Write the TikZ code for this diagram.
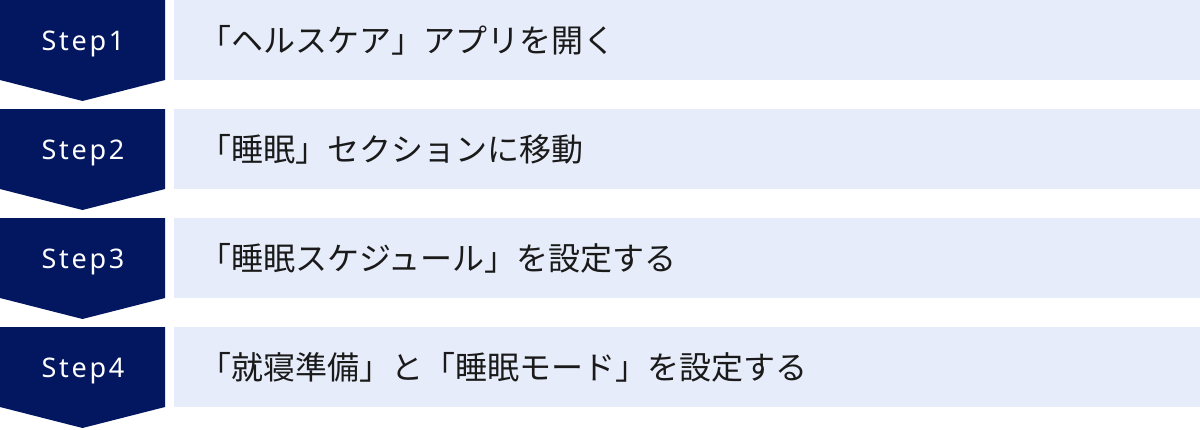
\documentclass[tikz,border=0pt]{standalone}
\usepackage{fontspec}
\newfontfamily\stepfont[LetterSpace=10]{Noto Sans}
\newfontfamily\jpfont{Noto Sans CJK JP}
\definecolor{navy}{HTML}{031760}
\definecolor{barbg}{HTML}{E6ECF9}
\definecolor{txt}{HTML}{1A1A1A}
\begin{document}
\begin{tikzpicture}[x=1pt,y=-1pt,
  steplabel/.style={text=white,font=\stepfont\fontsize{27}{32}\selectfont,inner sep=0pt,anchor=base},
  bartext/.style={text=txt,font=\jpfont\fontsize{32}{38}\selectfont,inner sep=0pt,anchor=west},
  stepshape/.style={fill=navy,draw=none},
  barshape/.style={fill=barbg,draw=none}]
\useasboundingbox (0,0) rectangle (1200,429);
\foreach \y/\n/\t in {0/1/「ヘルスケア」アプリを開く,109/2/「睡眠」セクションに移動,218/3/「睡眠スケジュール」を設定する,327/4/「就寝準備」と「睡眠モード」を設定する}{
  \fill[stepshape] (0,\y) -- (165,\y) -- (165,\y+80) -- (82.5,\y+101) -- (0,\y+80) -- cycle;
  \fill[barshape] (174,\y) rectangle (1200,\y+80);
  \node[steplabel] (step\n) at (83,\y+50) {Step\n};
  \node[bartext] (text\n) at (199,\y+40) {\t};
}
\end{tikzpicture}
\end{document}
